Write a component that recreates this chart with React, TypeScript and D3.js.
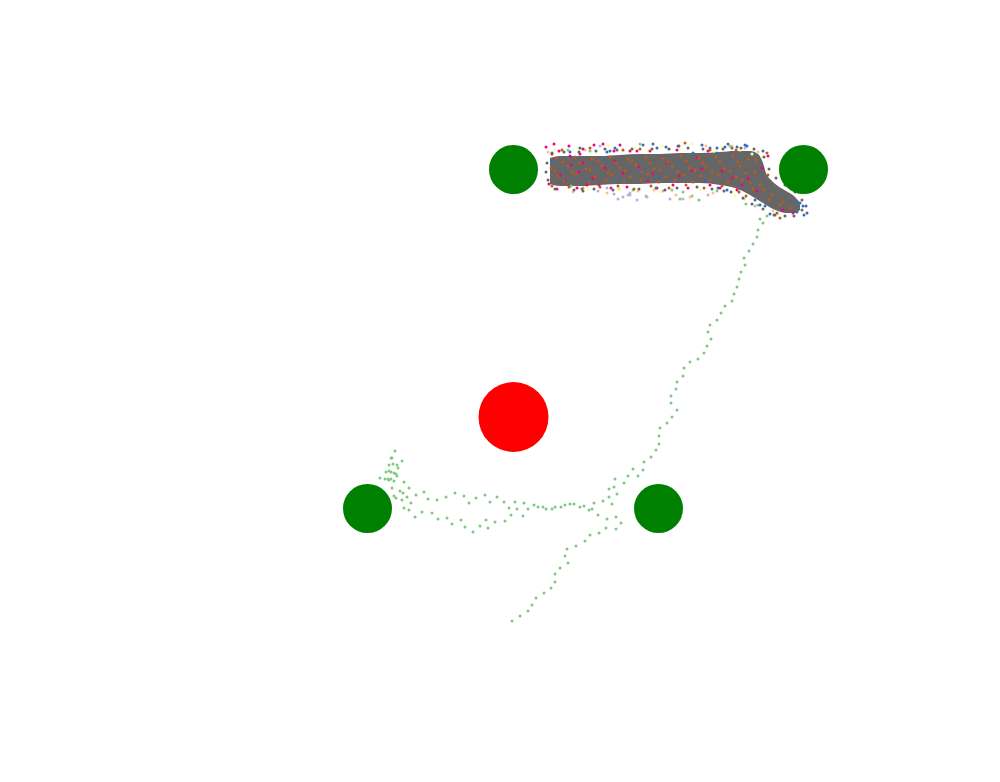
import React, { useEffect, useRef } from 'react';
import * as d3 from 'd3';

type Pt = [number, number];

// plot units: x 0..100, y 0..78.2 (y grows downward, like the scene frame)
const goals: Pt[] = [[51.35, 16.95], [80.35, 16.95], [36.75, 50.85], [65.85, 50.85]];
const goalRadius = 2.45;
const obstacle: Pt = [51.35, 41.7];
const obstacleRadius = 3.5;

// dense part of the last particle's trail, read as an envelope
const coreX = [55.0, 56.0, 58.0, 60.0, 62.0, 64.0, 66.0, 68.0, 70.0, 72.0, 73.5, 75.0, 75.8, 76.3, 76.6, 77.1, 77.8, 78.6, 79.5, 80.0];
const coreTop = [15.8, 15.6, 15.6, 15.6, 15.5, 15.4, 15.4, 15.3, 15.3, 15.2, 15.1, 15.1, 15.4, 16.3, 17.3, 18.0, 18.6, 19.1, 19.7, 20.3];
const coreBottom = [18.4, 18.6, 18.6, 18.5, 18.4, 18.4, 18.3, 18.3, 18.3, 18.5, 18.8, 19.5, 20.0, 20.3, 20.5, 20.8, 21.1, 21.3, 21.3, 21.0];

const particle0: Pt[] = [
  [76.7, 21.6], [76.3, 22.3], [75.8, 23.0], [75.7, 23.7], [75.3, 24.4], [74.9, 25.1], [74.4, 25.8], [74.5, 26.5],
  [74.1, 27.2], [73.9, 27.9], [73.7, 28.7], [73.4, 29.4], [73.2, 30.1], [72.5, 30.6], [72.1, 31.3], [71.7, 32.0],
  [71.0, 32.5], [70.8, 33.2], [71.1, 33.9], [70.7, 34.6], [70.4, 35.3], [69.8, 35.9], [69.0, 36.2], [68.4, 36.8],
  [68.3, 37.6], [67.7, 38.2], [67.6, 38.9], [67.1, 39.6], [67.1, 40.3], [67.7, 41.0], [67.2, 41.7], [66.7, 42.3],
  [66.0, 42.8], [65.9, 43.6], [65.9, 44.4], [65.6, 45.0], [65.1, 45.7], [64.4, 46.2], [64.3, 47.0], [63.3, 46.9],
  [63.8, 47.6], [62.8, 47.6], [62.4, 48.3], [61.5, 47.9], [61.4, 48.7], [60.9, 48.9], [61.7, 49.4], [60.9, 49.7],
  [39.5, 45.1], [39.1, 45.8], [39.2, 45.8], [40.2, 46.1], [38.9, 46.5], [39.3, 46.4], [39.7, 46.5], [39.8, 46.8],
  [38.6, 47.2], [38.9, 47.1], [39.1, 47.2], [39.4, 47.3], [39.6, 47.4], [39.7, 47.6], [38.0, 47.8], [38.5, 47.9],
  [38.8, 47.9], [38.9, 48.0], [39.1, 47.9], [39.4, 48.1], [40.4, 48.2], [39.2, 48.8], [40.9, 48.8], [40.0, 49.1],
  [40.3, 49.3], [39.4, 49.6], [39.6, 49.8], [40.7, 49.7], [41.6, 49.5], [42.4, 49.2], [40.2, 50.0], [41.1, 50.3],
  [42.8, 49.9], [43.7, 50.0], [44.6, 49.7], [45.5, 49.3], [46.4, 49.6], [46.9, 50.3], [47.6, 49.8], [48.5, 49.5],
  [49.0, 50.2], [49.7, 49.7], [50.4, 50.2], [51.5, 50.2], [52.4, 50.3], [50.9, 50.8], [51.7, 50.9], [52.8, 50.9],
  [53.4, 50.5], [53.8, 50.7], [54.3, 50.7], [54.6, 50.9], [55.2, 50.9], [55.5, 50.7], [56.1, 50.7], [56.5, 50.5],
  [57.0, 50.4], [57.4, 50.4], [58.0, 50.7], [58.4, 50.6], [58.9, 51.0], [59.2, 50.9], [59.4, 50.3], [60.3, 50.1],
  [61.2, 50.4], [40.4, 50.8], [40.9, 51.0], [41.5, 51.7], [42.2, 51.2], [43.2, 51.3], [43.8, 51.9], [44.7, 51.8],
  [45.2, 52.4], [46.1, 52.0], [46.5, 52.7], [47.3, 53.2], [48.0, 52.6], [48.6, 52.0], [48.8, 52.8], [49.5, 52.2],
  [50.5, 52.1], [51.1, 51.5], [52.3, 51.6], [59.8, 51.5], [60.7, 51.9], [61.6, 51.7], [62.1, 52.3], [61.6, 52.9],
  [60.6, 52.8], [59.9, 53.3], [59.0, 53.5], [58.5, 54.1], [57.6, 54.6], [56.7, 54.9], [56.5, 55.6], [56.8, 56.3],
  [56.0, 56.8], [55.5, 57.4], [55.5, 58.2], [55.1, 58.8], [54.4, 59.3], [53.6, 59.8], [53.2, 60.5], [52.8, 61.1],
  [52.0, 61.6], [51.2, 62.1],
  [64.0, 14.4], [68.3, 19.2], [69.2, 19.6], [69.9, 20.0], [68.0, 19.9], [67.2, 19.0], [63.3, 19.0], [71.7, 19.1],
  [57.1, 18.6], [58.3, 18.8], [56.8, 15.0], [59.0, 15.1], [73.0, 14.6], [75.8, 20.5], [74.6, 20.4], [76.0, 21.9],
];

const particle1: Pt[] = [
  [59.8, 19.1], [60.7, 18.8], [61.4, 19.4], [62.3, 19.7], [63.0, 19.3], [63.7, 20.0], [64.7, 19.7], [66.3, 19.1],
  [67.0, 19.9], [68.3, 19.9], [70.8, 19.5], [63.0, 19.5], [75.5, 20.6], [61.8, 19.9], [62.8, 19.5], [64.6, 19.6],
  [74.5, 14.8], [60.0, 14.6],
];

const particle2: Pt[] = [
  [57.3, 19.2], [60.7, 19.3], [63.8, 19.1], [67.6, 19.5], [71.3, 19.3], [74.4, 19.9], [77.3, 21.1], [54.8, 15.2],
  [58.5, 15.0], [66.9, 14.9], [70.6, 14.6], [73.2, 14.6], [75.8, 15.2], [69.0, 19.7], [61.9, 18.9], [65.4, 19.0],
];

const particle3: Pt[] = [
  [55.5, 15.0], [57.8, 14.9], [60.8, 14.6], [63.5, 14.8], [66.2, 14.6], [69.2, 14.4], [72.2, 14.7], [74.0, 15.0],
  [75.2, 15.4], [58.8, 18.9], [62.0, 19.0], [66.0, 19.2], [70.0, 19.0], [73.5, 19.6], [76.0, 20.4], [77.8, 21.4],
  [76.2, 15.7], [64.8, 15.1], [68.0, 14.9], [71.4, 15.1],
];

const particle4: Pt[] = [
  [64.3, 14.5], [65.7, 14.8], [67.8, 14.6], [70.2, 14.5], [71.7, 14.8], [72.5, 14.7], [73.7, 14.7], [74.5, 14.5],
  [61.5, 14.8], [60.7, 15.2], [58.0, 14.8], [57.0, 15.2], [65.3, 14.4], [66.6, 14.7], [71.0, 14.8], [72.8, 14.4],
  [72.7, 19.0], [75.5, 20.0], [76.0, 20.5], [79.7, 21.2], [80.3, 20.6], [80.7, 21.3], [79.7, 20.2], [71.8, 18.8],
  [76.5, 20.6], [77.0, 21.4], [80.0, 20.3], [80.6, 20.6], [80.4, 21.5], [77.5, 21.5],
  [55.3, 16.1], [60.5, 16.0], [61.6, 18.1], [61.0, 15.1], [64.3, 17.1], [68.0, 16.3], [70.5, 18.1], [69.3, 15.3],
  [71.7, 15.3], [56.5, 17.0], [58.8, 18.0], [66.0, 17.8], [73.0, 16.0], [74.7, 14.6], [76.3, 15.1],
];

const particle5: Pt[] = [
  [54.6, 14.7], [55.4, 14.4], [55.2, 15.4], [55.9, 15.1], [56.9, 14.6], [57.0, 15.6], [58.0, 15.4], [58.3, 14.9],
  [59.4, 14.5], [60.3, 14.4], [61.4, 15.1], [62.0, 14.5], [63.0, 15.1], [54.9, 18.4], [55.7, 18.9], [56.5, 18.1],
  [57.7, 18.8], [58.7, 18.5], [59.9, 18.5], [61.1, 18.8], [62.7, 18.7], [57.1, 16.5], [58.3, 16.3], [60.5, 16.8],
  [61.5, 16.1], [56.0, 17.5], [59.3, 17.8], [62.3, 17.3], [63.7, 15.1], [64.8, 18.1], [65.7, 18.8], [67.3, 18.5],
  [68.8, 18.8], [71.0, 18.5], [72.0, 18.8], [66.7, 16.3], [69.2, 17.1], [70.8, 15.1], [67.7, 15.0], [65.0, 15.1],
  [69.7, 15.8], [72.2, 17.1], [73.2, 17.8], [73.7, 19.0], [74.2, 18.5], [74.8, 17.8], [75.7, 19.1], [76.8, 15.6],
  [79.3, 21.3], [78.3, 21.0], [76.2, 16.8], [63.9, 16.7], [67.9, 17.6], [70.2, 16.9], [57.9, 17.2], [65.3, 17.4],
];

const particle6: Pt[] = [
  [55.6, 15.8], [57.5, 15.7], [59.2, 15.9], [61.0, 15.7], [62.8, 15.9], [64.6, 15.7], [66.3, 15.9], [68.1, 15.6],
  [69.9, 15.8], [71.6, 15.7], [73.3, 15.6], [74.8, 15.9], [55.1, 16.8], [56.8, 16.6], [58.6, 16.9], [60.2, 16.6],
  [62.0, 16.8], [63.6, 16.5], [65.4, 16.9], [67.2, 16.6], [68.9, 16.8], [70.6, 16.6], [72.4, 16.9], [74.0, 16.6],
  [75.5, 17.2], [55.8, 17.6], [57.6, 17.4], [59.5, 17.7], [61.2, 17.5], [63.0, 17.7], [64.8, 17.4], [66.6, 17.7],
  [68.4, 17.5], [70.1, 17.6], [71.8, 17.4], [73.6, 17.7], [75.0, 18.3], [76.4, 19.0], [55.2, 18.6], [56.9, 18.7],
  [58.2, 18.9], [60.0, 18.7], [61.8, 18.6], [63.4, 18.9], [65.1, 18.6], [66.9, 18.8], [68.6, 18.5], [70.4, 18.8],
  [72.2, 18.6], [73.9, 19.2], [74.6, 19.6], [76.9, 20.0], [78.0, 20.5], [56.2, 15.0], [59.0, 14.8], [62.3, 15.0],
  [64.0, 14.9], [68.5, 14.3], [71.0, 15.0], [73.6, 15.0], [76.7, 15.3], [78.0, 21.8], [77.7, 21.3], [76.8, 17.5],
  [56.3, 16.2], [58.0, 16.3], [59.8, 16.1], [61.6, 16.3], [63.2, 16.1], [65.0, 16.3], [66.8, 16.2], [68.6, 16.1],
  [70.3, 16.3], [72.0, 16.1], [73.8, 16.2], [75.6, 16.0], [55.5, 17.1], [57.2, 17.2], [59.0, 17.0], [60.8, 17.3],
  [62.5, 17.1], [64.2, 17.2], [66.0, 17.0], [67.8, 17.2], [69.5, 17.0], [71.2, 17.2], [73.0, 17.1], [74.6, 17.3],
  [56.4, 18.1], [58.9, 18.2], [60.6, 18.0], [62.4, 18.2], [64.1, 18.0], [65.9, 18.2], [67.5, 18.0], [69.3, 18.2],
  [71.0, 18.0], [72.8, 18.2], [74.2, 18.0], [76.0, 18.5], [77.2, 19.5], [78.3, 20.2], [79.0, 20.8], [75.3, 18.9],
];

const particle7: Pt[] = [
  [55.2, 15.3], [56.4, 15.2], [57.9, 15.2], [59.6, 15.1], [61.7, 15.0], [63.2, 14.9], [65.2, 14.9], [66.9, 14.9],
  [68.8, 14.8], [70.3, 14.9], [72.3, 14.9], [74.1, 14.8], [75.4, 14.9], [76.4, 15.7], [76.9, 16.9], [77.6, 17.8],
  [78.5, 18.5], [79.5, 19.2], [80.2, 20.0], [55.5, 18.9], [57.4, 19.0], [59.4, 18.9], [61.3, 19.0], [63.9, 18.9],
  [65.6, 18.8], [67.7, 18.8], [69.7, 18.7], [71.2, 18.9], [73.1, 19.2], [74.3, 19.8], [75.2, 20.4], [76.3, 20.9],
  [77.4, 21.5], [78.5, 21.6], [79.4, 21.6], [80.2, 21.0], [54.7, 16.3], [54.6, 17.2], [54.8, 18.0], [60.5, 14.9],
  [67.9, 14.6], [73.2, 14.8], [58.3, 19.1], [66.5, 19.0], [72.4, 19.1],
];

const particles: Pt[][] = [particle0, particle1, particle2, particle3, particle4, particle5, particle6, particle7];

const width = 1000;
const height = 782;

const App: React.FC = () => {
  const svgRef = useRef<SVGSVGElement | null>(null);

  useEffect(() => {
    const svg = d3.select(svgRef.current);
    svg.selectAll('*').remove();

    const x = d3.scaleLinear().domain([0, 100]).range([0, width]);
    const y = d3.scaleLinear().domain([0, 78.2]).range([0, height]);
    const color = d3.scaleOrdinal<number, string>().domain(d3.range(8)).range(d3.schemeAccent);

    svg.append('rect').attr('width', width).attr('height', height).attr('fill', 'white');

    // dense core of the gray particle
    const area = d3.area<number>()
      .x((d, i) => x(coreX[i]))
      .y0((d, i) => y(coreTop[i]))
      .y1((d, i) => y(coreBottom[i]))
      .curve(d3.curveMonotoneX);

    svg.append('path')
      .datum(coreX)
      .attr('d', area)
      .attr('fill', color(7));

    particles.forEach((pts, k) => {
      svg.append('g')
        .selectAll('circle')
        .data(pts)
        .join('circle')
        .attr('cx', d => x(d[0]))
        .attr('cy', d => y(d[1]))
        .attr('r', 1.5)
        .attr('fill', color(k));
    });

    svg.append('g')
      .selectAll('circle')
      .data(goals)
      .join('circle')
      .attr('cx', d => x(d[0]))
      .attr('cy', d => y(d[1]))
      .attr('r', x(goalRadius) - x(0))
      .attr('fill', 'green');

    svg.append('circle')
      .attr('cx', x(obstacle[0]))
      .attr('cy', y(obstacle[1]))
      .attr('r', x(obstacleRadius) - x(0))
      .attr('fill', 'red');
  }, []);

  return (
    <div style={{ position: 'absolute', left: 0, top: 0, width, height, overflow: 'hidden' }}>
      <svg ref={svgRef} width={width} height={height} style={{ display: 'block' }} />
    </div>
  );
};

export default App;
